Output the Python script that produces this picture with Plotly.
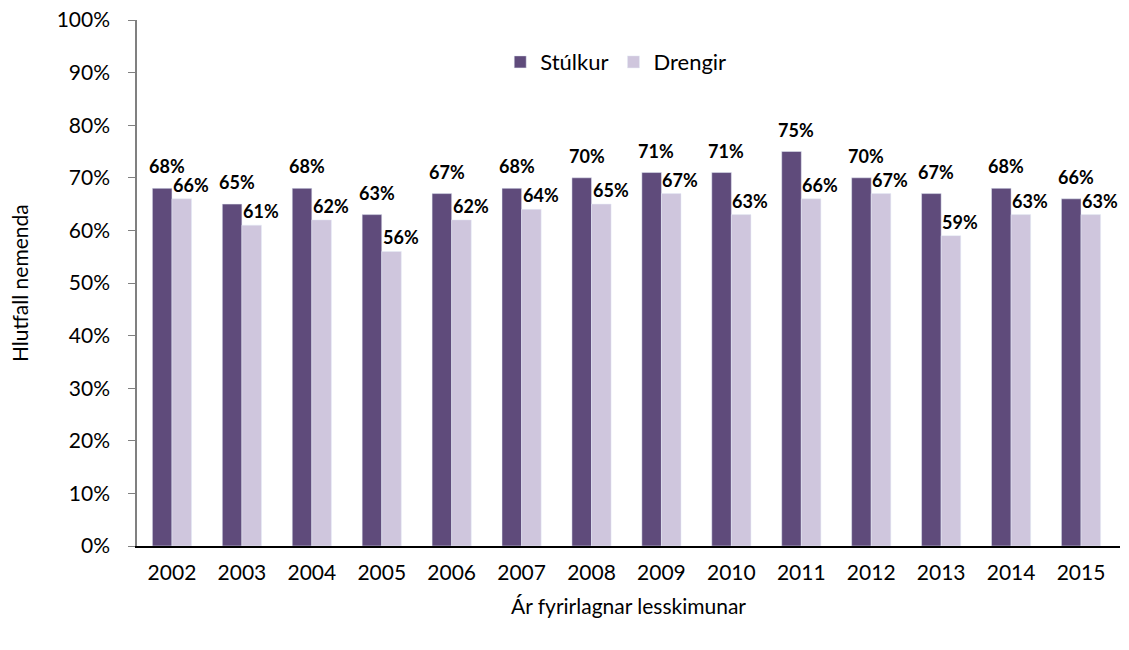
import plotly.graph_objects as go

years = ['2002', '2003', '2004', '2005', '2006', '2007', '2008',
         '2009', '2010', '2011', '2012', '2013', '2014', '2015']
stulkur = [68, 65, 68, 63, 67, 68, 70, 71, 71, 75, 70, 67, 68, 66]
drengir = [66, 61, 62, 56, 62, 64, 65, 67, 63, 66, 67, 59, 63, 63]

font_family = 'Lato, Open Sans, sans-serif'
label_font = dict(size=18, color='black', family=font_family, weight='bold')

fig = go.Figure()
fig.add_trace(go.Bar(x=years, y=stulkur, name='Stúlkur', marker_color='#5f4b7b'))
fig.add_trace(go.Bar(x=years, y=drengir, name='Drengir', marker_color='#cfc6dd'))

# data labels above bars (offset like the Excel original);
# on a category axis the annotation x is the category index
for series, shift, lift in ((stulkur, -5, 9), (drengir, 19, 1)):
    for i, v in enumerate(series):
        fig.add_annotation(x=i, y=v, text=f'{v}%', showarrow=False,
                           xanchor='center', yanchor='bottom',
                           xshift=shift, yshift=lift, font=label_font)

# y axis title placed by hand, further out than plotly's standoff allows
fig.add_annotation(text='Hlutfall nemenda', xref='paper', yref='paper',
                   x=-0.12, y=0.5, xanchor='center', yanchor='middle',
                   textangle=-90, showarrow=False, font=dict(size=21))

fig.update_layout(
    width=1129, height=650,
    barmode='group', bargap=0.44, bargroupgap=0,
    plot_bgcolor='white', paper_bgcolor='white',
    font=dict(family=font_family, size=21, color='black'),
    margin=dict(l=137, r=9, t=20, b=104, autoexpand=False),
    legend=dict(orientation='h', x=0.487, y=0.92, xanchor='center', yanchor='middle',
                font=dict(size=22), bgcolor='rgba(0,0,0,0)', itemwidth=30),
    xaxis=dict(
        type='category',
        showline=True, linecolor='black', linewidth=1.5,
        ticks='', tickfont=dict(size=21), ticklabelstandoff=7,
        title=dict(text='Ár fyrirlagnar lesskimunar', font=dict(size=21), standoff=16),
    ),
    yaxis=dict(
        range=[0, 100], dtick=10, ticksuffix='%',
        showgrid=False, zeroline=False,
        showline=True, linecolor='#808080', linewidth=1.5,
        ticks='outside', ticklen=7, tickcolor='#808080',
        tickfont=dict(size=21), ticklabelstandoff=14,
    ),
)

fig.write_html('out.html', config={'displayModeBar': False},
               post_script="document.body.style.margin='0';")
